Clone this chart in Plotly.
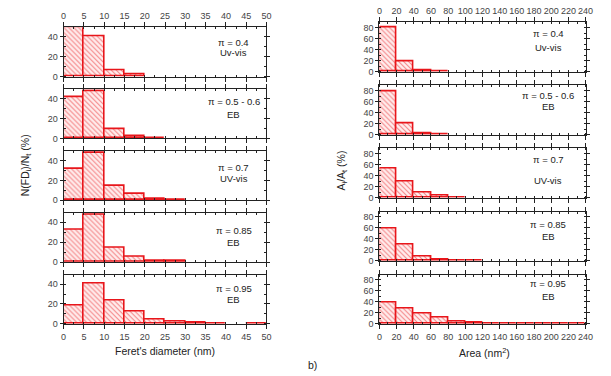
import plotly.graph_objects as go

W, H = 611, 376

# ---------------- data ----------------
fd_edges = [0, 5, 10, 15, 20, 25, 30, 35, 40, 45, 50]
fd_values = [
    [50, 40, 6, 2, 0, 0, 0, 0, 0, 0],
    [41, 47, 9, 2.5, 0.7, 0, 0, 0, 0, 0],
    [31, 48, 14, 6, 1, 0.5, 0, 0, 0, 0],
    [32, 48, 14, 5, 1.7, 1, 0, 0, 0, 0],
    [18, 40, 23, 12, 4, 2, 1, 0.7, 0, 0.5],
]
area_edges = [0, 20, 40, 60, 80, 100, 120, 140, 160, 180, 200, 220, 240]
area_values = [
    [80, 18, 3, 1, 0, 0, 0, 0, 0, 0, 0, 0],
    [78, 20, 3, 1, 0, 0, 0, 0, 0, 0, 0, 0],
    [54, 30, 10, 4, 1, 0, 0, 0, 0, 0, 0, 0],
    [58, 30, 7, 3, 1, 0.5, 0, 0, 0, 0, 0, 0],
    [38, 28, 18, 11, 5, 2, 1, 0.5, 0.5, 0.5, 0.5, 0.5],
]
pi_labels = ["π = 0.4", "π = 0.5 - 0.6", "π = 0.7", "π = 0.85", "π = 0.95"]
method_labels = ["Uv-vis", "EB", "UV-vis", "EB", "EB"]

RED = "#e8161b"
FONT = "Liberation Sans, Arial, sans-serif"
TICKC = "#444"

def px_x(p):
    return p / W

def px_y(p):
    return 1 - p / H

fig = go.Figure()
layout = {}
annotations = []

def text_ann(x, y, text, size, angle=0):
    return dict(x=px_x(x), y=px_y(y), xref="paper", yref="paper", text=text,
                showarrow=False, xanchor="center", yanchor="middle", textangle=angle,
                font=dict(family=FONT, size=size, color="#222"))

def add_panel(idx, edges, vals, yr, top_px, xdom, dtick, mdtick, ydtick, first, last,
              ann_x, ann_y1, ann_y2, pi_lab, meth_lab):
    n = idx + 1
    xname = "x" if n == 1 else f"x{n}"
    yname = "y" if n == 1 else f"y{n}"
    xa = "xaxis" if n == 1 else f"xaxis{n}"
    ya = "yaxis" if n == 1 else f"yaxis{n}"
    centers = [(edges[i] + edges[i + 1]) / 2 for i in range(len(vals))]
    widths = [edges[i + 1] - edges[i] for i in range(len(vals))]
    yv = [v if v > 0 else None for v in vals]
    fig.add_trace(go.Bar(
        x=centers, y=yv, width=widths, xaxis=xname, yaxis=yname,
        marker=dict(color="rgba(255,238,238,1)",
                    line=dict(color=RED, width=1.6),
                    pattern=dict(shape="\\", fgcolor=RED, bgcolor="rgba(255,238,238,1)",
                                 size=3.5, solidity=0.3)),
        showlegend=False, hoverinfo="skip"))
    bot_px = top_px + 50
    ydom = [px_y(bot_px), px_y(top_px)]
    side = "top" if first else "bottom"
    layout[xa] = dict(
        domain=xdom, anchor=yname, range=[edges[0], edges[-1]],
        tick0=0, dtick=dtick, showline=True, linecolor="#222", linewidth=1,
        mirror="allticks", ticks="outside", ticklen=4, tickcolor="#222",
        minor=dict(dtick=mdtick, ticks="inside", ticklen=2, tickcolor="#222"),
        showgrid=False, zeroline=False, side=side,
        showticklabels=(first or last),
        tickfont=dict(family=FONT, size=9, color=TICKC),
    )
    layout[ya] = dict(
        domain=ydom, anchor=xname, range=yr,
        tick0=0, dtick=ydtick, showline=True, linecolor="#222", linewidth=1,
        mirror="allticks", ticks="outside", ticklen=3, tickcolor="#222",
        minor=dict(dtick=ydtick / 2, ticks="inside", ticklen=2, tickcolor="#222"),
        showgrid=False, zeroline=False,
        tickfont=dict(family=FONT, size=9, color=TICKC),
    )
    annotations.append(text_ann(ann_x, ann_y1, pi_lab, 9.5))
    annotations.append(text_ann(ann_x, ann_y2, meth_lab, 9.5))

left_dom = [px_x(61.7), px_x(268.3)]
right_dom = [px_x(383.3), px_x(593.3)]
left_ann1 = [43.3, 103.3, 169.3, 233.3, 292.3]
left_ann2 = [53.3, 116.3, 181.0, 246.0, 304.0]
right_ann1 = [34.3, 96.7, 161.7, 227.7, 287.7]
right_ann2 = [47.7, 108.3, 182.7, 240.0, 301.0]

for i in range(5):
    add_panel(i, fd_edges, fd_values[i], [0, 49.5], 27.7 + i * 62.65, left_dom,
              5, 2.5, 20, i == 0, i == 4, 235, left_ann1[i], left_ann2[i],
              pi_labels[i], method_labels[i])
for i in range(5):
    add_panel(5 + i, area_edges, area_values[i], [0, 89.5], 22.7 + i * 63.9, right_dom,
              20, 10, 20, i == 0, i == 4, 555, right_ann1[i], right_ann2[i],
              pi_labels[i], method_labels[i])

annotations += [
    text_ann(23, 168, "N(FD<sub>i</sub>)/N<sub>t</sub> (%)", 10.5, -90),
    text_ann(345, 173, "A<sub>i</sub>/A<sub>t</sub> (%)", 10.5, -90),
    text_ann(165, 356, "Feret's diameter (nm)", 10.5),
    text_ann(490, 357, "Area (nm<sup>2</sup>)", 10.5),
    text_ann(315, 370, "b)", 10.5),
]

fig.update_layout(
    width=W, height=H, margin=dict(l=0, r=0, t=0, b=0),
    paper_bgcolor="white", plot_bgcolor="white",
    annotations=annotations, bargap=0, **layout,
)
fig.write_html("out.html")
